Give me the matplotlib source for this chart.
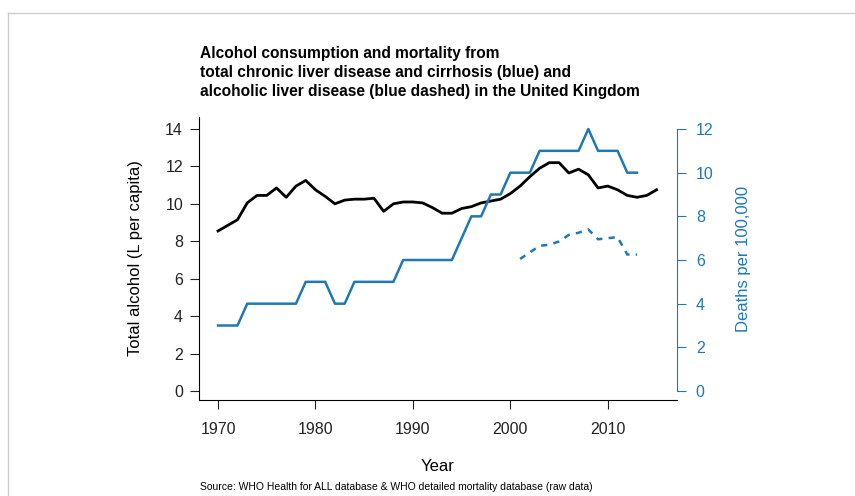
import matplotlib
matplotlib.use("Agg")
import matplotlib.pyplot as plt
from matplotlib.lines import Line2D

plt.rcParams['font.family'] = ['Liberation Sans', 'DejaVu Sans']

# data
years = list(range(1970, 2016))
alcohol = [8.55, 8.85, 9.15, 10.05, 10.45, 10.45, 10.85, 10.35, 10.95, 11.25,
           10.75, 10.4, 10.0, 10.2, 10.25, 10.25, 10.3, 9.6, 10.0, 10.1,
           10.1, 10.05, 9.8, 9.5, 9.5, 9.75, 9.85, 10.05, 10.15, 10.25,
           10.55, 10.95, 11.45, 11.9, 12.2, 12.2, 11.65, 11.85, 11.55, 10.85,
           10.95, 10.75, 10.45, 10.35, 10.45, 10.75]

death_years = list(range(1970, 2014))
deaths_total = [3, 3, 3, 4, 4, 4, 4, 4, 4, 5,
                5, 5, 4, 4, 5, 5, 5, 5, 5, 6,
                6, 6, 6, 6, 6, 7, 8, 8, 9, 9,
                10, 10, 10, 11, 11, 11, 11, 11, 12, 11,
                11, 11, 10, 10]

ald_years = list(range(2001, 2014))
deaths_ald = [6.05, 6.35, 6.65, 6.7, 6.85, 7.15, 7.25, 7.4, 6.95, 7.0, 7.05, 6.25, 6.25]

blue = '#1f78b4'

fig = plt.figure(figsize=(8.55, 4.96), dpi=100)
ax = fig.add_axes([199 / 855, 1 - 400 / 496, (677 - 199) / 855, (400 - 117) / 496])

ax.plot(years, alcohol, color='black', linewidth=2)
ax.set_xlim(1968.05, 2017.1)
ax.set_ylim(-0.48, 14.64)
ax.set_xticks([1970, 1980, 1990, 2000, 2010])
ax.set_yticks(range(0, 15, 2))
ax.tick_params(axis='both', direction='out', length=6.5, width=0.8, labelsize=11.5, colors='#222222')
ax.tick_params(axis='x', pad=9)
ax.tick_params(axis='y', pad=5)
ax.spines['top'].set_visible(False)
ax.spines['right'].set_visible(False)
ax.set_xlabel('Year', fontsize=12, labelpad=16)
ax.set_ylabel('Total alcohol (L per capita)', fontsize=12, labelpad=16)

ax2 = ax.twinx()
ax2.plot(death_years, deaths_total, color=blue, linewidth=1.8)
ax2.plot(ald_years, deaths_ald, color=blue, linewidth=1.8, linestyle=(0, (2.5, 2.5)))
ax2.set_ylim(-0.412, 12.55)
ax2.set_yticks(range(0, 13, 2))
ax2.spines['top'].set_visible(False)
ax2.spines['left'].set_visible(False)
ax2.spines['bottom'].set_visible(False)
ax2.spines['right'].set_color(blue)
ax2.spines['right'].set_bounds(0, 12)
ax2.tick_params(axis='y', colors=blue, direction='out', length=6.5, width=0.8, labelsize=11.5, pad=7)
ax2.set_ylabel('Deaths per 100,000', fontsize=12, color=blue, labelpad=16)

fig.text(200 / 855, 1 - 46 / 496,
         'Alcohol consumption and mortality from\n'
         'total chronic liver disease and cirrhosis (blue) and\n'
         'alcoholic liver disease (blue dashed) in the United Kingdom',
         fontsize=11.2, fontweight='bold', ha='left', va='top', linespacing=1.32)
fig.text(200 / 855, 1 - 487 / 496,
         'Source: WHO Health for ALL database & WHO detailed mortality database (raw data)',
         fontsize=7.5, ha='left', va='center')

# light frame at top/left edge
fig.add_artist(Line2D([8 / 855, 1], [1 - 13 / 496, 1 - 13 / 496], color='#cccccc', linewidth=1))
fig.add_artist(Line2D([8 / 855, 8 / 855], [0, 1 - 13 / 496], color='#cccccc', linewidth=1))

fig.savefig('out.png', dpi=100)
